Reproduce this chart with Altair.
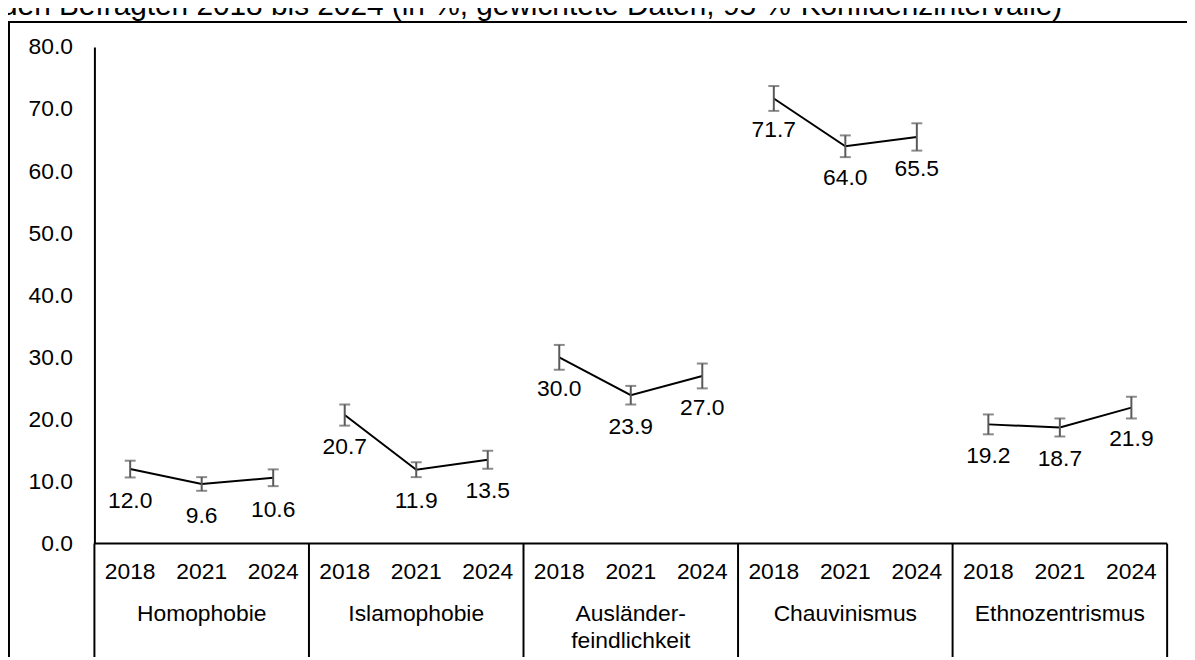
import altair as alt
import pandas as pd

groups = ["Homophobie", "Islamophobie", "Ausländer-feindlichkeit", "Chauvinismus", "Ethnozentrismus"]
group_lines = [["Homophobie"], ["Islamophobie"], ["Ausländer-", "feindlichkeit"], ["Chauvinismus"], ["Ethnozentrismus"]]
years = ["2018", "2021", "2024"]
values = [
    [12.0, 9.6, 10.6],
    [20.7, 11.9, 13.5],
    [30.0, 23.9, 27.0],
    [71.7, 64.0, 65.5],
    [19.2, 18.7, 21.9],
]
ci_half = [
    [1.35, 1.1, 1.35],
    [1.7, 1.2, 1.45],
    [2.0, 1.5, 2.0],
    [2.0, 1.75, 2.2],
    [1.6, 1.45, 1.75],
]
y_ticks = [0, 10, 20, 30, 40, 50, 60, 70, 80]
title_text = "den Befragten 2018 bis 2024 (in %, gewichtete Daten, 95 %-Konfidenzintervalle)"

FONT = "Liberation Sans"
FS = 23

rows = []
for gi, g in enumerate(groups):
    for yi, yr in enumerate(years):
        v = values[gi][yi]
        h = ci_half[gi][yi]
        rows.append({"idx": gi * 3 + yi, "group": g, "year": yr, "value": v,
                     "lo": v - h, "hi": v + h, "label": f"{v:.1f}"})
df = pd.DataFrame(rows)

grp_rows = []
for gi, lines in enumerate(group_lines):
    for li, t in enumerate(lines):
        grp_rows.append({"gx": gi * 3 + 1, "text": t, "gy": 571 + 27 * li})
gdf = pd.DataFrame(grp_rows)

sep_df = pd.DataFrame({"sx": [gi * 3 - 0.5 for gi in range(len(groups) + 1)]})

# pixel-placed decorations (frame lines and cut-off title)
hrules = pd.DataFrame({"x1": [0, -87], "x2": [1080, 1200], "yy": [500, -25]})
vrule = pd.DataFrame({"xx": [-86], "y1": [-25], "y2": [660]})
title_df = pd.DataFrame({"tx": [-94], "ty": [-32], "t": [title_text]})

xs = alt.Scale(domain=[-0.5, len(groups) * 3 - 0.5], nice=False, zero=False)
ys = alt.Scale(domain=[0, 80], nice=False)
X = alt.X("idx:Q", scale=xs, axis=None)
Yv = alt.Y("value:Q", scale=ys, title=None,
           axis=alt.Axis(values=y_ticks, format=".1f", grid=False, ticks=False,
                         labelPadding=22, labelFont=FONT, labelFontSize=FS,
                         labelColor="#000000", domainColor="#000000",
                         domainWidth=2))

base = alt.Chart(df)

line = base.mark_line(color="#000000", strokeWidth=2).encode(
    x=X, y=Yv, detail="group:N"
)
err = base.mark_rule(color="#595959", strokeWidth=2).encode(
    x=X, y=alt.Y("lo:Q", scale=ys, axis=None), y2="hi:Q"
)
cap_lo = base.mark_tick(color="#595959", thickness=2, size=11, orient="horizontal").encode(
    x=X, y=alt.Y("lo:Q", scale=ys, axis=None)
)
cap_hi = base.mark_tick(color="#595959", thickness=2, size=11, orient="horizontal").encode(
    x=X, y=alt.Y("hi:Q", scale=ys, axis=None)
)
labels = base.mark_text(font=FONT, fontSize=FS, color="#000000", dy=32,
                        baseline="middle", align="center").encode(
    x=X, y=alt.Y("value:Q", scale=ys, axis=None), text="label:N"
)
year_labels = base.mark_text(font=FONT, fontSize=FS, color="#000000",
                             baseline="middle", align="center").encode(
    x=X, y=alt.value(529), text="year:N"
)
seps = alt.Chart(sep_df).mark_rule(color="#000000", strokeWidth=2).encode(
    x=alt.X("sx:Q", scale=xs, axis=None), y=alt.value(500), y2=alt.value(660)
)
glabels = alt.Chart(gdf).mark_text(font=FONT, fontSize=FS, color="#000000",
                                   baseline="middle", align="center").encode(
    x=alt.X("gx:Q", scale=xs, axis=None), y=alt.Y("gy:Q", scale=None, axis=None), text="text:N"
)
hlines = alt.Chart(hrules).mark_rule(color="#000000", strokeWidth=2).encode(
    x=alt.X("x1:Q", scale=None, axis=None), x2="x2:Q",
    y=alt.Y("yy:Q", scale=None, axis=None)
)
vlines = alt.Chart(vrule).mark_rule(color="#000000", strokeWidth=2).encode(
    x=alt.X("xx:Q", scale=None, axis=None),
    y=alt.Y("y1:Q", scale=None, axis=None), y2="y2:Q"
)
title = alt.Chart(title_df).mark_text(font=FONT, fontSize=30, color="#000000",
                                      align="left", baseline="alphabetic").encode(
    x=alt.X("tx:Q", scale=None, axis=None),
    y=alt.Y("ty:Q", scale=None, axis=None), text="t:N"
)

chart = alt.layer(
    line, hlines, vlines, title, seps, err, cap_lo, cap_hi,
    labels, year_labels, glabels
).resolve_scale(x="independent", y="independent").properties(
    width=1080, height=500,
    autosize=alt.AutoSizeParams(type="none"),
    padding={"left": 87, "top": 37, "right": 20, "bottom": 112},
    background="#ffffff",
).configure_view(stroke=None)

chart.save("out.html", embed_options={"renderer": "svg", "actions": False})
